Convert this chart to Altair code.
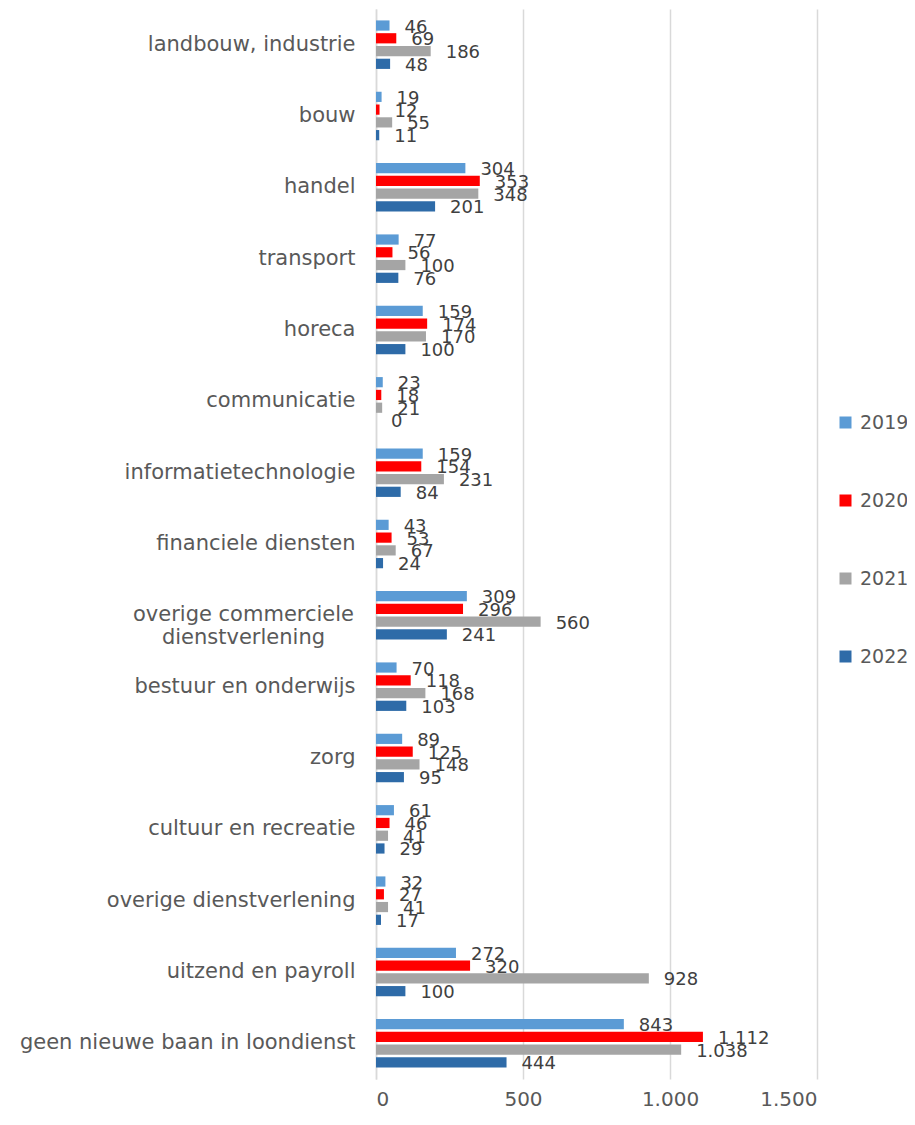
import altair as alt
import pandas as pd

categories = [
    "landbouw, industrie",
    "bouw",
    "handel",
    "transport",
    "horeca",
    "communicatie",
    "informatietechnologie",
    "financiele diensten",
    "overige commerciele\ndienstverlening",
    "bestuur en onderwijs",
    "zorg",
    "cultuur en recreatie",
    "overige dienstverlening",
    "uitzend en payroll",
    "geen nieuwe baan in loondienst",
]
years = ["2019", "2020", "2021", "2022"]
v2019 = [46, 19, 304, 77, 159, 23, 159, 43, 309, 70, 89, 61, 32, 272, 843]
v2020 = [69, 12, 353, 56, 174, 18, 154, 53, 296, 118, 125, 46, 27, 320, 1112]
v2021 = [186, 55, 348, 100, 170, 21, 231, 67, 560, 168, 148, 41, 41, 928, 1038]
v2022 = [48, 11, 201, 76, 100, 0, 84, 24, 241, 103, 95, 29, 17, 100, 444]
colors = ["#5B9BD5", "#FF0000", "#A5A5A5", "#2E6BA8"]
x_ticks = [0, 500, 1000, 1500]

rows = []
for i, c in enumerate(categories):
    for yr, vals in zip(years, [v2019, v2020, v2021, v2022]):
        rows.append({"cat": c, "year": yr, "value": vals[i]})
df = pd.DataFrame(rows)

FONT = "DejaVu Sans"
multi_test = "indexof(datum.value, '\\n') >= 0"

base = alt.Chart(df).transform_calculate(
    label="replace(format(datum.value, ','), ',', '.')"
).encode(
    y=alt.Y(
        "cat:N",
        sort=categories,
        scale=alt.Scale(paddingInner=0.32, paddingOuter=0.16),
        axis=alt.Axis(
            title=None,
            labelExpr="split(datum.label, '\\n')",
            labelFont=FONT,
            labelFontSize=21,
            labelColor="#595959",
            labelAlign={"condition": {"test": multi_test, "value": "center"}, "value": "right"},
            labelPadding={"condition": {"test": multi_test, "value": 133}, "value": 21},
            labelLimit=500,
            ticks=False,
            tickSize=0,
            domainColor="#D9D9D9",
            domainWidth=1.5,
        ),
    ),
    yOffset=alt.YOffset("year:N", sort=years, scale=alt.Scale(paddingInner=0.2, paddingOuter=0)),
    x=alt.X(
        "value:Q",
        scale=alt.Scale(domain=[0, 1500], nice=False),
        axis=alt.Axis(
            title=None,
            values=x_ticks,
            labelExpr="replace(format(datum.value, ','), ',', '.')",
            labelFont=FONT,
            labelFontSize=20,
            labelColor="#595959",
            labelPadding=10,
            domain=False,
            ticks=False,
            gridColor="#D9D9D9",
            gridWidth=1.5,
        ),
    ),
)

bars = base.mark_bar().encode(
    color=alt.Color(
        "year:N",
        sort=years,
        scale=alt.Scale(domain=years, range=colors),
        legend=alt.Legend(
            title=None,
            orient="none",
            legendX=460,
            legendY=404,
            symbolType="square",
            symbolSize=144,
            symbolStrokeWidth=0,
            labelFont=FONT,
            labelFontSize=19,
            labelColor="#595959",
            labelOffset=5,
            rowPadding=58,
            padding=0,
        ),
    )
)

texts = base.mark_text(
    align="left", baseline="middle", dx=15, dy=2,
    font=FONT, fontSize=18, color="#404040",
).encode(text="label:N")

chart = (
    alt.layer(bars, texts)
    .properties(
        width=441,
        height=1070,
        autosize=alt.AutoSizeParams(type="none"),
        padding={"left": 368, "top": 1, "right": 90, "bottom": 34},
        background="white",
    )
    .configure_view(stroke=None)
)

chart.save("out.html", embed_options={"renderer": "svg", "actions": False})
